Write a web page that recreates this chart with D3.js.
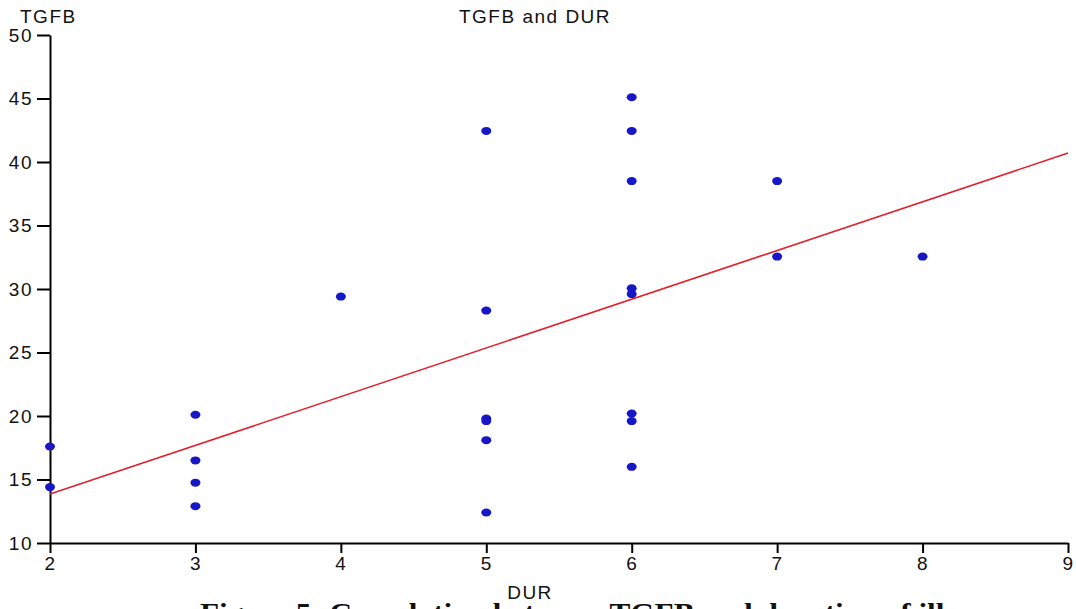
<!DOCTYPE html>
<html>
<head>
<meta charset="utf-8">
<script src="https://cdn.jsdelivr.net/npm/d3@7"></script>
<style>
  body { margin: 0; background: #fff; overflow: hidden; }
  text { font-family: "Liberation Sans", Arial, sans-serif; fill: #111; }
</style>
</head>
<body>
<script>
// values
var durValues  = [2, 2, 3, 3, 3, 3, 4, 5, 5, 5, 5, 5, 5, 6, 6, 6, 6, 6, 6, 6, 6, 7, 7, 8];
var tgfbValues = [17.6, 14.4, 20.1, 16.5, 14.75, 12.9, 29.4, 42.45, 28.3, 19.8, 19.6, 18.1, 12.4,
                  45.1, 42.45, 38.5, 30.05, 29.6, 20.2, 19.6, 16.0, 38.5, 32.55, 32.55];
var xTicks = [2, 3, 4, 5, 6, 7, 8, 9];
var yTicks = [10, 15, 20, 25, 30, 35, 40, 45, 50];
// ends of the fitted line
var fitX = [2, 9];
var fitY = [13.85, 40.7];

var width = 1076, height = 609;

var svg = d3.select("body").append("svg")
    .attr("width", width)
    .attr("height", height)
    .style("display", "block");

var x = d3.scaleLinear().domain([2, 9]).range([50, 1068]);
var y = d3.scaleLinear().domain([10, 50]).range([543, 35]);

var xAxis = svg.append("g")
    .attr("transform", "translate(0," + y(10) + ")")
    .call(d3.axisBottom(x).tickValues(xTicks).tickFormat(d3.format("d"))
        .tickSize(10).tickSizeOuter(0).tickPadding(4));

var yAxis = svg.append("g")
    .attr("transform", "translate(" + x(2) + ",0)")
    .call(d3.axisLeft(y).tickValues(yTicks).tickFormat(d3.format("d"))
        .tickSize(13).tickSizeOuter(0).tickPadding(4));

[xAxis, yAxis].forEach(function(a) {
  a.selectAll("path, line").attr("stroke", "#000").attr("stroke-width", 2);
  a.selectAll("text")
      .style("font-size", "19px")
      .style("letter-spacing", "1.5px")
      .attr("fill", "#111");
});

// regression line
svg.append("line")
    .attr("x1", x(fitX[0])).attr("y1", y(fitY[0]))
    .attr("x2", x(fitX[1])).attr("y2", y(fitY[1]))
    .attr("stroke", "#e0202c")
    .attr("stroke-width", 1.6);

// points
var pts = durValues.map(function(d, i) { return {dur: d, tgfb: tgfbValues[i]}; });
svg.append("g").selectAll("ellipse")
    .data(pts)
    .enter().append("ellipse")
      .attr("cx", function(d) { return x(d.dur); })
      .attr("cy", function(d) { return y(d.tgfb); })
      .attr("rx", 5)
      .attr("ry", 4)
      .attr("fill", "#1717c8");

// titles
svg.append("text")
    .attr("x", 20).attr("y", 23)
    .style("font-size", "19px").style("letter-spacing", "1.5px")
    .text("TGFB");

svg.append("text")
    .attr("x", 535).attr("y", 23)
    .attr("text-anchor", "middle")
    .style("font-size", "19px").style("letter-spacing", "1.5px")
    .text("TGFB and DUR");

svg.append("text")
    .attr("x", 530).attr("y", 599)
    .attr("text-anchor", "middle")
    .style("font-size", "19px").style("letter-spacing", "1.5px")
    .text("DUR");

// figure caption, cut by the bottom edge
svg.append("text")
    .attr("x", 200).attr("y", 622)
    .attr("textLength", 800)
    .attr("lengthAdjust", "spacingAndGlyphs")
    .style("font-family", "'Liberation Serif', 'Times New Roman', serif")
    .style("font-weight", "bold")
    .style("font-size", "27px")
    .text("Figure 5: Correlation between TGFB and duration of illness");
</script>
</body>
</html>
